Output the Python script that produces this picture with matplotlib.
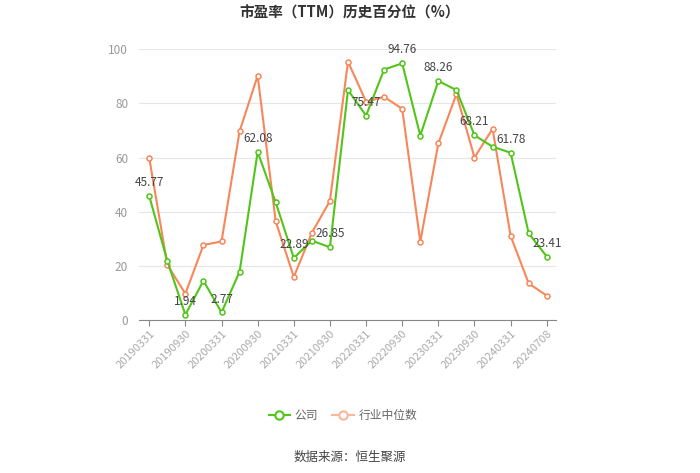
import matplotlib
matplotlib.use("Agg")

import matplotlib.pyplot as plt
from matplotlib.lines import Line2D

plt.rcParams["font.family"] = ["Noto Sans CJK SC", "DejaVu Sans"]

dates = [
    "20190331", "20190630", "20190930", "20191231",
    "20200331", "20200630", "20200930", "20201231",
    "20210331", "20210630", "20210930", "20211231",
    "20220331", "20220630", "20220930", "20221231",
    "20230331", "20230630", "20230930", "20231231",
    "20240331", "20240630", "20240708",
]
company = [
    45.77, 21.8, 1.94, 14.5, 2.77, 17.8, 62.08, 43.4, 22.89, 29.3, 26.85, 84.9,
    75.47, 92.5, 94.76, 68.1, 88.26, 84.9, 68.21, 64.0, 61.78, 32.0, 23.41,
]
industry = [
    59.9, 20.4, 9.7, 27.7, 29.0, 69.7, 90.2, 36.4, 15.9, 32.2, 44.0, 95.4,
    80.6, 82.4, 78.0, 28.9, 65.2, 83.4, 60.0, 70.6, 31.0, 13.5, 9.0,
]
labeled_idx = list(range(0, len(dates), 2))

GREEN = "#52c41a"
ORANGE = "#f7875a"
GRAY = "#999999"

fig = plt.figure(figsize=(7, 4.73), dpi=100)
ax = fig.add_axes([0.199, 0.3235, 0.595, 0.5725])

x = list(range(len(dates)))
ax.plot(x, industry, color=ORANGE, lw=1.5, marker="o", ms=3.6,
        mfc="white", mec=ORANGE, mew=1.1, zorder=3)
ax.plot(x, company, color=GREEN, lw=1.5, marker="o", ms=3.6,
        mfc="white", mec=GREEN, mew=1.1, zorder=4)

for i in labeled_idx:
    ax.annotate(f"{company[i]:.2f}", (i, company[i]), xytext=(0, 5),
                textcoords="offset points", ha="center", va="bottom",
                fontsize=8.5, color="#444444", zorder=5)

ax.set_xlim(-0.55, len(dates) - 0.5)
ax.set_ylim(0, 100)
ax.set_yticks([0, 20, 40, 60, 80, 100])
ax.grid(axis="y", color="#e6e6e6", lw=0.8)
ax.set_axisbelow(True)

ax.set_xticks(labeled_idx)
ax.set_xticklabels([dates[i] for i in labeled_idx], rotation=45, ha="right",
                   rotation_mode="anchor", fontsize=8, color="#aaaaaa")
ax.tick_params(axis="x", length=4, color="#888888", pad=2)
ax.tick_params(axis="y", length=0, labelsize=8.5, labelcolor=GRAY, pad=8)

for side in ("top", "right", "left"):
    ax.spines[side].set_visible(False)
ax.spines["bottom"].set_color("#888888")

fig.text(0.5, 0.99, "市盈率（TTM）历史百分位（%）", ha="center", va="top",
         fontsize=10.5, fontweight="bold", color="#333333")

handles = [
    Line2D([], [], color=GREEN, lw=1.5, marker="o", ms=6, mfc="white", mec=GREEN, mew=1.5),
    Line2D([], [], color="#f9b89c", lw=1.5, marker="o", ms=6, mfc="white", mec="#f9b89c", mew=1.5),
]
leg = fig.legend(handles, ["公司", "行业中位数"], loc="center", bbox_to_anchor=(0.49, 0.122),
                 ncol=2, frameon=False, fontsize=8.5, handlelength=1.8,
                 columnspacing=1.2, handletextpad=0.4)
for t in leg.get_texts():
    t.set_color("#666666")

fig.text(0.5, 0.034, "数据来源：恒生聚源", ha="center", va="center",
         fontsize=9, color="#444444")

fig.savefig("out.png", dpi=100)
